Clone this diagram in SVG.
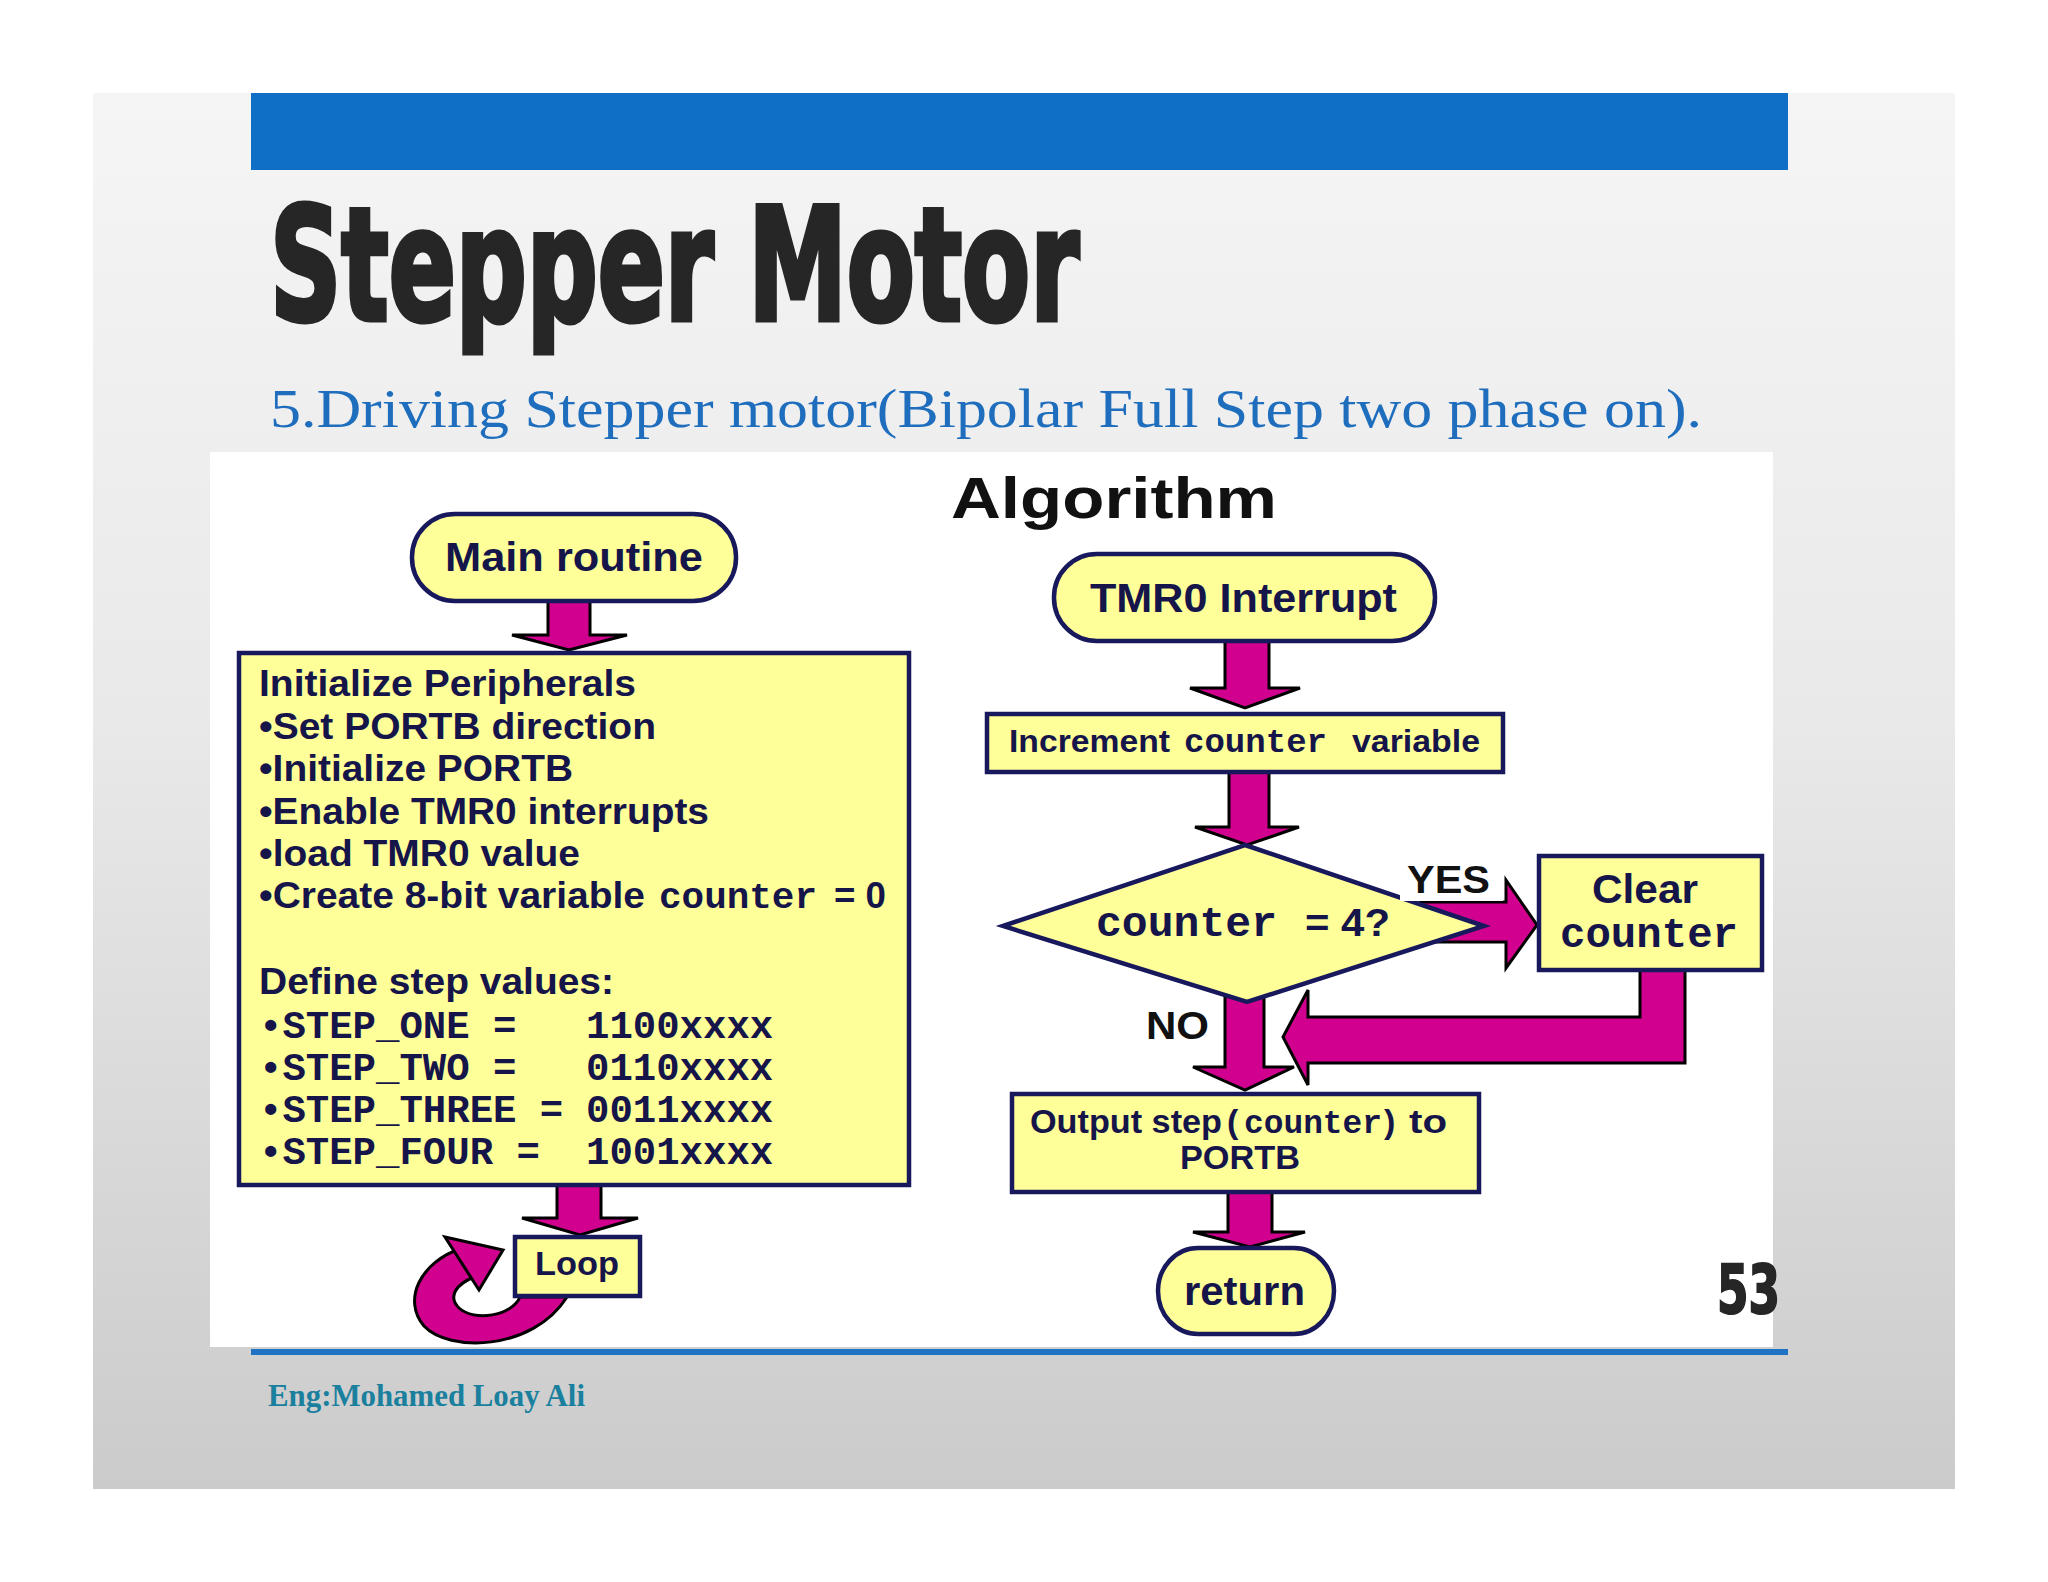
<svg xmlns="http://www.w3.org/2000/svg" width="2048" height="1582" viewBox="0 0 2048 1582">
<defs>
<linearGradient id="bg" x1="0" y1="0" x2="0" y2="1">
<stop offset="0" stop-color="#F5F5F5"/>
<stop offset="0.45" stop-color="#E9E9E9"/>
<stop offset="1" stop-color="#CBCBCB"/>
</linearGradient>
<style>
.node{fill:#FFFF99;stroke:#18185C;stroke-width:4.5}
.arr{fill:#D2008F;stroke:#000;stroke-width:3;stroke-linejoin:miter}
.t{font-family:"Liberation Sans",Arial,Helvetica,sans-serif;font-weight:bold;fill:#15154A}
.m{font-family:"Liberation Mono","Courier New",monospace;font-weight:bold;fill:#15154A}
.imp{font-family:"Liberation Sans Narrow","DejaVu Sans Condensed","Liberation Sans",sans-serif;font-weight:bold;fill:#262626;stroke:#262626}
</style>
</defs>
<rect x="0" y="0" width="2048" height="1582" fill="#FFFFFF"/>
<rect x="93" y="93" width="1862" height="1396" fill="url(#bg)"/>
<rect x="251" y="93" width="1537" height="77" fill="#0F6FC6"/>
<text class="imp" x="270" y="320" font-size="156" stroke-width="5" textLength="809" lengthAdjust="spacingAndGlyphs">Stepper Motor</text>
<text x="270" y="427" font-family="'Liberation Serif','Times New Roman',serif" font-size="54" fill="#1F6EBE" textLength="1432" lengthAdjust="spacingAndGlyphs">5.Driving Stepper motor(Bipolar Full Step two phase on).</text>
<rect x="210" y="452" width="1563" height="895" fill="#FFFFFF"/>
<rect x="251" y="1349" width="1537" height="6" fill="#1F72C4"/>
<text class="imp" x="1717" y="1313" font-size="68" stroke-width="2" textLength="63" lengthAdjust="spacingAndGlyphs">53</text>
<text x="268" y="1406" font-family="'Liberation Serif','Times New Roman',serif" font-weight="bold" font-size="32" fill="#1A809E" textLength="317" lengthAdjust="spacingAndGlyphs">Eng:Mohamed Loay Ali</text>
<text class="t" x="951" y="518" font-size="58" fill="#111111" style="fill:#111111" textLength="326" lengthAdjust="spacingAndGlyphs">Algorithm</text>

<g id="connectors">
<polygon class="arr" points="548,600 590,600 590,635 627,635 569,650 512,635 548,635"/>
<polygon class="arr" points="557,1185 601,1185 601,1218 638,1218 580,1235 522,1218 557,1218"/>
<path class="arr" d="M462 1248 C420 1262 402 1300 424 1326 C448 1352 532 1352 567 1297 L520 1297 C512 1316 474 1322 459 1308 C447 1296 457 1284 474 1277 Z"/>
<polygon class="arr" points="445,1237 503,1250 479,1290"/>
<polygon class="arr" points="1225,641 1269,641 1269,688 1300,688 1245,708 1190,688 1225,688"/>
<polygon class="arr" points="1229,772 1269,772 1269,827 1299,827 1247,845 1195,827 1229,827"/>
<polygon class="arr" points="1420,902 1506,902 1506,880 1537,925 1506,968 1506,942 1420,942"/>
<polygon class="arr" points="1640,970 1685,970 1685,1063 1308,1063 1308,1085 1283,1037 1308,990 1308,1017 1640,1017"/>
<polygon class="arr" points="1225,995 1264,995 1264,1067 1294,1067 1245,1090 1193,1067 1225,1067"/>
<polygon class="arr" points="1228,1192 1272,1192 1272,1232 1305,1232 1250,1247 1193,1232 1228,1232"/>
</g>

<g id="main-routine">
<rect class="node" x="412" y="514" width="324" height="87" rx="43" ry="43"/>
<text class="t" x="445" y="571" font-size="40" textLength="258" lengthAdjust="spacingAndGlyphs">Main routine</text>
</g>

<g id="init">
<rect class="node" x="239" y="653" width="670" height="532"/>
<text class="t" x="259" y="696" font-size="36" textLength="377" lengthAdjust="spacingAndGlyphs">Initialize Peripherals</text>
<text class="t" x="259" y="739" font-size="36" textLength="397" lengthAdjust="spacingAndGlyphs">•Set PORTB direction</text>
<text class="t" x="259" y="781" font-size="36" textLength="314" lengthAdjust="spacingAndGlyphs">•Initialize PORTB</text>
<text class="t" x="259" y="824" font-size="36" textLength="450" lengthAdjust="spacingAndGlyphs">•Enable TMR0 interrupts</text>
<text class="t" x="259" y="866" font-size="36" textLength="321" lengthAdjust="spacingAndGlyphs">•load TMR0 value</text>
<text class="t" x="259" y="908" font-size="36" textLength="386" lengthAdjust="spacingAndGlyphs">•Create 8-bit variable</text>
<text class="m" x="659" y="908" font-size="37" textLength="158" lengthAdjust="spacingAndGlyphs">counter</text>
<text class="t" x="834" y="908" font-size="36" textLength="52" lengthAdjust="spacingAndGlyphs">= 0</text>
<text class="t" x="259" y="994" font-size="36" textLength="355" lengthAdjust="spacingAndGlyphs">Define step values:</text>
<text class="m" x="259" y="1038" font-size="39">•STEP_ONE =<tspan x="586">1100xxxx</tspan></text>
<text class="m" x="259" y="1080" font-size="39">•STEP_TWO =<tspan x="586">0110xxxx</tspan></text>
<text class="m" x="259" y="1122" font-size="39">•STEP_THREE =<tspan x="586">0011xxxx</tspan></text>
<text class="m" x="259" y="1164" font-size="39">•STEP_FOUR =<tspan x="586">1001xxxx</tspan></text>
</g>

<g id="loop">
<rect class="node" x="515" y="1237" width="125" height="59"/>
<text class="t" x="535" y="1275" font-size="34" textLength="84" lengthAdjust="spacingAndGlyphs">Loop</text>
</g>

<g id="tmr0">
<rect class="node" x="1054" y="554" width="381" height="87" rx="43" ry="43"/>
<text class="t" x="1090" y="612" font-size="40" textLength="307" lengthAdjust="spacingAndGlyphs">TMR0 Interrupt</text>
</g>

<g id="increment">
<rect class="node" x="987" y="714" width="516" height="58"/>
<text class="t" x="1009" y="752" font-size="32" textLength="161" lengthAdjust="spacingAndGlyphs">Increment</text>
<text class="m" x="1184" y="752" font-size="33" textLength="143" lengthAdjust="spacingAndGlyphs">counter</text>
<text class="t" x="1352" y="752" font-size="32" textLength="128" lengthAdjust="spacingAndGlyphs">variable</text>
</g>

<g id="decision">
<polygon class="node" points="1245,845 1484,926 1247,1002 1003,926"/>
<text class="m" x="1096" y="936" font-size="42" textLength="181" lengthAdjust="spacingAndGlyphs">counter</text>
<text class="t" x="1305" y="936" font-size="38" textLength="85" lengthAdjust="spacingAndGlyphs">= 4?</text>
</g>

<g id="labels">
<rect x="1400" y="858" width="103" height="43" fill="#FFFFFF"/>
<text class="t" x="1407" y="893" font-size="38" style="fill:#111111" textLength="83" lengthAdjust="spacingAndGlyphs">YES</text>
<text class="t" x="1146" y="1039" font-size="38" style="fill:#111111" textLength="63" lengthAdjust="spacingAndGlyphs">NO</text>
</g>

<g id="clear">
<rect class="node" x="1539" y="856" width="223" height="114"/>
<text class="t" x="1592" y="903" font-size="40" textLength="106" lengthAdjust="spacingAndGlyphs">Clear</text>
<text class="m" x="1560" y="947" font-size="42" textLength="178" lengthAdjust="spacingAndGlyphs">counter</text>
</g>

<g id="output">
<rect class="node" x="1012" y="1094" width="467" height="98"/>
<text class="t" x="1030" y="1133" font-size="34" textLength="192" lengthAdjust="spacingAndGlyphs">Output step</text>
<text class="t" x="1227" y="1133" font-size="34">(</text>
<text class="m" x="1244" y="1133" font-size="33" textLength="138" lengthAdjust="spacingAndGlyphs">counter</text>
<text class="t" x="1384" y="1133" font-size="34">)</text>
<text class="t" x="1409" y="1133" font-size="34" textLength="38" lengthAdjust="spacingAndGlyphs">to</text>
<text class="t" x="1180" y="1169" font-size="34" textLength="120" lengthAdjust="spacingAndGlyphs">PORTB</text>
</g>

<g id="return">
<rect class="node" x="1158" y="1248" width="176" height="86" rx="40" ry="43"/>
<text class="t" x="1184" y="1305" font-size="40" textLength="121" lengthAdjust="spacingAndGlyphs">return</text>
</g>
</svg>
